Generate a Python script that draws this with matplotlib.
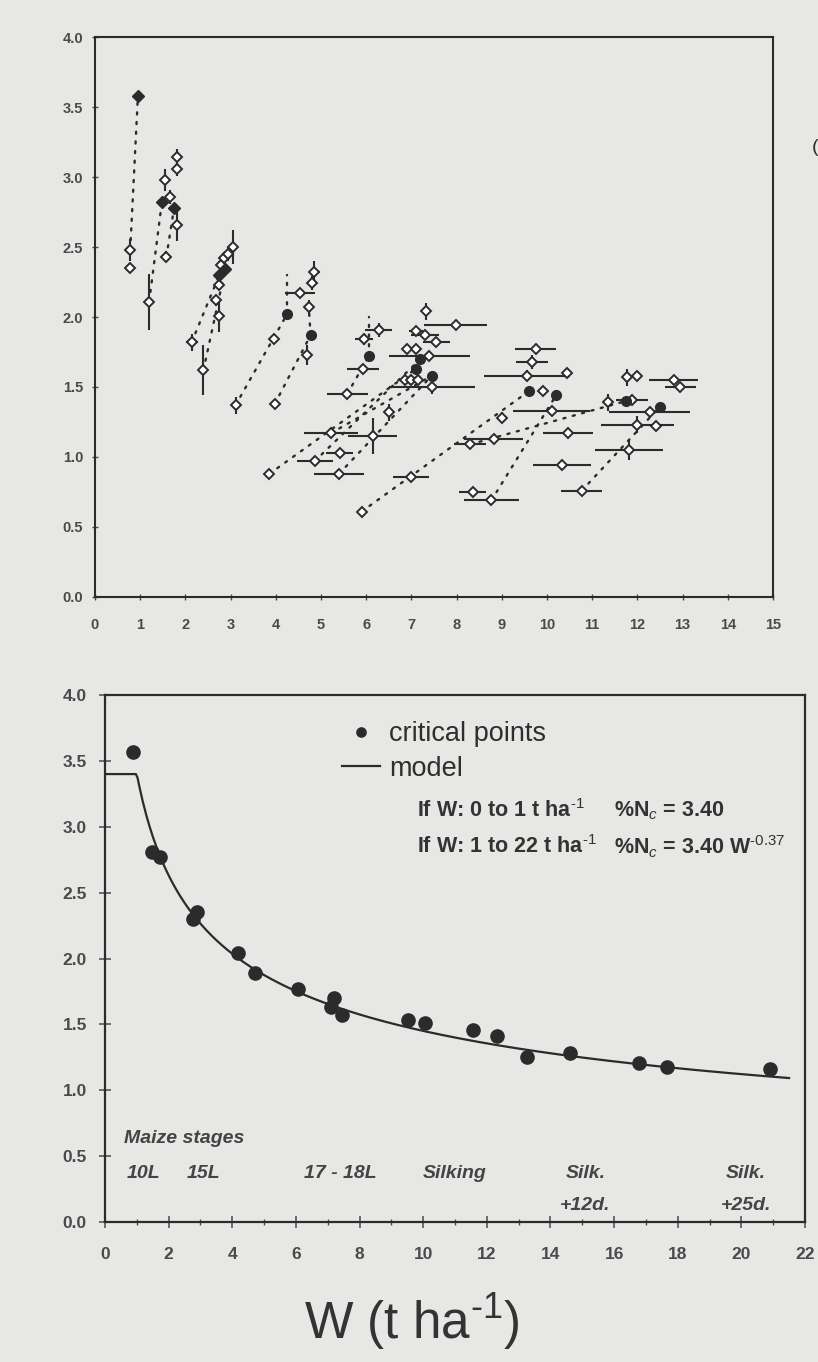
import numpy as np
import matplotlib.pyplot as plt

plt.rcParams['font.family'] = ['Liberation Sans', 'DejaVu Sans']
plt.rcParams['mathtext.fontset'] = 'custom'
plt.rcParams['mathtext.rm'] = 'Liberation Sans'
plt.rcParams['mathtext.it'] = 'Liberation Sans:italic'
plt.rcParams['mathtext.bf'] = 'Liberation Sans:bold'

# ---- upper panel: all N treatments, mean +/- error ----
obs_w = [0.78, 0.78,
         1.20, 1.58, 1.56, 1.66, 1.82, 1.82, 1.82,
         2.14, 2.40, 2.68, 2.75, 2.75, 2.79, 2.86, 2.95, 3.06,
         3.11, 3.96, 3.98, 4.54, 4.70, 4.73, 4.80, 4.85,
         3.86, 4.86, 5.22, 5.41, 5.40, 5.58, 5.93, 5.95, 6.28, 6.50, 6.14,
         7.33, 7.98, 7.10, 7.30, 7.55, 6.90, 7.10, 7.40, 6.85, 7.00, 7.15, 7.45,
         5.90, 7.00, 8.36, 8.77, 8.30, 8.82, 9.00, 9.55, 9.67, 9.75, 9.92, 10.45,
         10.10, 10.46, 10.33, 10.77,
         11.78, 12.00, 12.80, 12.95, 11.36, 11.88, 12.27, 12.00, 12.42, 11.82]
obs_n = [2.48, 2.35,
         2.11, 2.43, 2.98, 2.86, 3.14, 3.06, 2.66,
         1.82, 1.62, 2.12, 2.01, 2.23, 2.37, 2.42, 2.45, 2.50,
         1.37, 1.84, 1.38, 2.17, 1.73, 2.07, 2.24, 2.32,
         0.88, 0.97, 1.17, 1.03, 0.88, 1.45, 1.63, 1.84, 1.91, 1.32, 1.15,
         2.04, 1.94, 1.90, 1.87, 1.82, 1.77, 1.77, 1.72, 1.55, 1.55, 1.55, 1.50,
         0.61, 0.86, 0.75, 0.69, 1.09, 1.13, 1.28, 1.58, 1.68, 1.77, 1.47, 1.60,
         1.33, 1.17, 0.94, 0.76,
         1.57, 1.58, 1.55, 1.50, 1.39, 1.41, 1.32, 1.23, 1.22, 1.05]
obs_xerr = [0, 0,
            0, 0, 0, 0, 0, 0, 0,
            0.13, 0, 0.10, 0, 0, 0, 0, 0, 0,
            0.10, 0, 0, 0.33, 0.06, 0.10, 0.05, 0.12,
            0.08, 0.40, 0.60, 0.30, 0.55, 0.45, 0.35, 0.20, 0.30, 0.06, 0.55,
            0.06, 0.70, 0.15, 0.30, 0.30, 0, 0, 0.90, 0, 0, 0, 0.95,
            0, 0.40, 0.30, 0.60, 0.35, 0.65, 0.05, 0.95, 0.35, 0.45, 0, 0,
            0.85, 0.55, 0.65, 0.45,
            0.08, 0, 0.55, 0.35, 0.08, 0.35, 0.90, 0.80, 0, 0.75]
obs_yerr = [0.08, 0,
            0.20, 0.04, 0.08, 0.05, 0.06, 0.05, 0.12,
            0.06, 0.18, 0.04, 0.12, 0.04, 0, 0, 0.05, 0.12,
            0.06, 0, 0, 0, 0.07, 0.05, 0.05, 0.08,
            0, 0, 0, 0, 0, 0, 0, 0.04, 0.05, 0.06, 0.13,
            0.06, 0, 0, 0, 0, 0, 0, 0, 0, 0, 0, 0.05,
            0, 0, 0, 0, 0, 0, 0.04, 0.04, 0.05, 0, 0, 0,
            0, 0, 0, 0,
            0.06, 0, 0, 0.03, 0.06, 0, 0, 0.06, 0, 0.07]

# critical points of each sampling date
crit_w = [0.95, 1.48, 1.75, 2.75, 2.88, 4.25, 4.77, 6.06, 7.20, 7.10, 7.45, 9.60, 10.20, 11.75, 12.50]
crit_n = [3.58, 2.82, 2.78, 2.30, 2.34, 2.02, 1.87, 1.72, 1.70, 1.63, 1.58, 1.47, 1.44, 1.40, 1.36]
crit_diamond = [True, True, True, True, True] + [False] * 10

# dotted dilution lines (start -> end)
line_w0 = [0.78, 1.20, 1.58, 2.14, 2.40, 3.11, 4.25, 3.98, 4.77, 5.58, 6.06,
           3.86, 4.86, 5.22, 5.40, 5.90, 8.77, 10.77, 8.30]
line_n0 = [2.48, 2.11, 2.43, 1.82, 1.62, 1.37, 2.02, 1.38, 1.87, 1.45, 1.72,
           0.88, 0.97, 1.17, 0.88, 0.61, 0.69, 0.76, 1.09]
line_w1 = [0.95, 1.48, 1.75, 2.75, 2.88, 4.25, 4.25, 4.77, 4.73, 6.06, 6.06,
           7.10, 7.20, 7.45, 7.45, 9.60, 10.20, 12.50, 11.75]
line_n1 = [3.58, 2.82, 2.78, 2.30, 2.34, 2.02, 2.30, 1.87, 2.07, 1.72, 2.00,
           1.63, 1.70, 1.58, 1.58, 1.47, 1.44, 1.36, 1.40]

# ---- lower panel: critical points and dilution model ----
cp_w = [0.88, 1.48, 1.74, 2.75, 2.90, 4.18, 4.70, 6.06, 7.20, 7.10, 7.45,
        9.52, 10.06, 11.57, 12.33, 13.27, 14.60, 16.77, 17.67, 20.90]
cp_n = [3.57, 2.81, 2.77, 2.30, 2.35, 2.04, 1.89, 1.77, 1.70, 1.63, 1.57,
        1.53, 1.51, 1.46, 1.41, 1.25, 1.28, 1.21, 1.18, 1.16]
nc_a = 3.40
nc_b = 0.37
w_max = 21.5

stage_names = ['10L', '15L', '17 - 18L', 'Silking', 'Silk.\n+12d.', 'Silk.\n+25d.']
stage_w = [1.2, 3.1, 7.4, 11.0, 15.1, 20.15]

ink = '#2b2b2b'
grey = '#4a4a4a'
paper = '#e7e7e5'

fig = plt.figure(figsize=(8.18, 13.62), dpi=100, facecolor=paper)

# upper panel
ax1 = fig.add_axes([0.1161, 0.5617, 0.8289, 0.4111], facecolor=paper)
for i in range(len(line_w0)):
    ax1.plot([line_w0[i], line_w1[i]], [line_n0[i], line_n1[i]], color=ink,
             lw=1.7, dashes=(0.9, 3.2), dash_capstyle='round', zorder=1)
ax1.errorbar(obs_w, obs_n, xerr=obs_xerr, yerr=obs_yerr, fmt='D', ms=5.5,
             mfc='white', mec=ink, mew=1.4, ecolor=ink, elinewidth=1.5,
             capsize=0, zorder=2)
for i in range(len(crit_w)):
    ax1.plot(crit_w[i], crit_n[i], 'D' if crit_diamond[i] else 'o',
             ms=6.5 if crit_diamond[i] else 7, color=ink, zorder=3)

ax1.set_xlim(0, 15)
ax1.set_ylim(0, 4)
ax1.set_xticks(np.arange(0, 16, 1))
ax1.set_yticks(np.arange(0, 4.01, 0.5))
ax1.set_yticklabels(['%.1f' % v for v in np.arange(0, 4.01, 0.5)])
ax1.tick_params(direction='inout', length=5, width=1, color=grey,
                labelsize=10.5, labelcolor=grey)
ax1.tick_params(axis='x', pad=13)
ax1.tick_params(axis='y', pad=6)
for lbl in ax1.get_xticklabels() + ax1.get_yticklabels():
    lbl.set_fontweight('bold')
for s in ax1.spines.values():
    s.set_color(ink)
    s.set_linewidth(1.5)

fig.text(0.992, 1 - 148 / 1362, '(', fontsize=14, color=ink, va='center')

# lower panel
ax2 = fig.add_axes([0.1284, 0.1028, 0.8557, 0.3869], facecolor=paper)
w_model = np.linspace(0, w_max, 400)
n_model = nc_a * np.maximum(w_model, 1) ** (-nc_b)
ax2.plot(cp_w, cp_n, 'o', ms=9.5, color=ink, label='critical points', zorder=3)
ax2.plot(w_model, n_model, color=ink, lw=1.6, label='model', zorder=2)

leg = ax2.legend(loc='upper left', bbox_to_anchor=(0.338, 0.95), frameon=False,
                 fontsize=19.5, handlelength=1.4, handletextpad=0.35,
                 labelspacing=0.3, borderpad=0, borderaxespad=0, markerscale=0.7)
for t in leg.get_texts():
    t.set_color('#2e2e2e')

ax2.text(9.8, 3.12, r'If W: 0 to 1 t ha$^{\text{-1}}$', fontsize=15.5,
         fontweight='bold', color='#333333', va='center')
ax2.text(16.0, 3.12, '%N$_c$ = 3.40', fontsize=15.5, fontweight='bold',
         color='#333333', va='center')
ax2.text(9.8, 2.85, r'If W: 1 to 22 t ha$^{\text{-1}}$', fontsize=15.5,
         fontweight='bold', color='#333333', va='center')
ax2.text(16.0, 2.85, r'%N$_c$ = 3.40 W$^{\text{-0.37}}$', fontsize=15.5,
         fontweight='bold', color='#333333', va='center')

ax2.text(0.6, 0.63, 'Maize stages', fontsize=14, fontweight='bold',
         style='italic', color='#444444', va='center')
for name, w in zip(stage_names, stage_w):
    ax2.text(w, 0.43, name, fontsize=14, fontweight='bold', style='italic',
             color='#444444', ha='center', va='top', linespacing=2.1)

ax2.set_xlim(0, 22)
ax2.set_ylim(0, 4)
ax2.set_xticks(np.arange(0, 23, 2))
ax2.set_xticks(np.arange(1, 22, 2), minor=True)
ax2.set_yticks(np.arange(0, 4.01, 0.5))
ax2.set_yticklabels(['%.1f' % v for v in np.arange(0, 4.01, 0.5)])
ax2.tick_params(direction='inout', length=8, width=1.1, color=grey,
                labelsize=12.5, labelcolor=grey)
ax2.tick_params(which='minor', direction='inout', length=4, width=1, color=grey)
ax2.tick_params(axis='x', pad=14)
ax2.tick_params(axis='y', pad=9)
for lbl in ax2.get_xticklabels() + ax2.get_yticklabels():
    lbl.set_fontweight('bold')
for s in ax2.spines.values():
    s.set_color(ink)
    s.set_linewidth(1.6)

fig.text(412 / 818, 1 - 1322 / 1362, r'W (t ha$^{\text{-1}}$)', fontsize=37,
         color='#333333', ha='center', va='center')

fig.savefig('out.png', dpi=100, facecolor=paper)
